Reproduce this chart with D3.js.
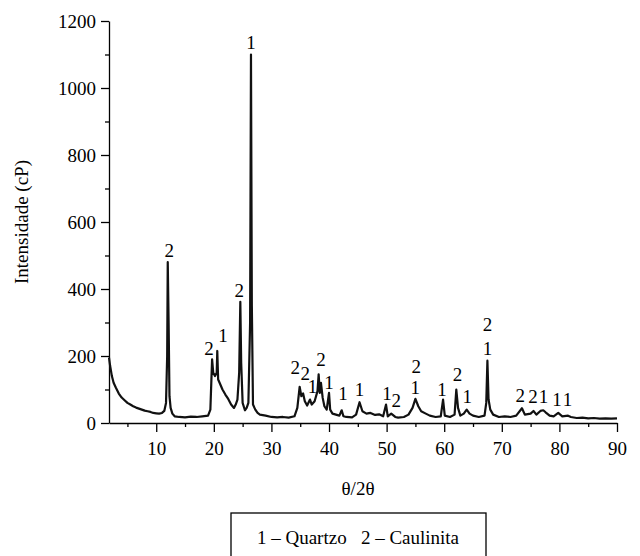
<!DOCTYPE html>
<html>
<head>
<meta charset="utf-8">
<style>
  body { margin: 0; background: #fff; }
  text { font-family: "Liberation Serif"; }
</style>
</head>
<body>
<svg width="640" height="556" font-family="Liberation Serif">
  <text x="-200" y="-50" font-size="19" style="font-family:&quot;Liberation Serif&quot;">0123456789 Quartzo</text>
</svg>
<script src="https://cdn.jsdelivr.net/npm/d3@7"></script>
<script>
// 2theta positions and intensities
var twoTheta = [1.8, 2.0, 2.3, 2.6, 3.0, 3.5, 4.0, 4.5, 5.0, 5.5, 6.0, 6.5, 7.0, 7.5, 8.0, 8.5, 9.0, 9.5, 10.0, 10.5,
  11.0, 11.4, 11.7, 11.9, 12.0, 12.15, 12.3, 12.5, 12.8, 13.2, 14, 15, 16, 17, 18, 19, 19.4, 19.7, 19.9, 20.2,
  20.5, 20.6, 20.75, 21.0, 21.5, 22, 22.5, 23, 23.5, 23.8, 24.1, 24.4, 24.6, 24.75, 25.0, 25.4, 25.7, 26.0, 26.3, 26.45,
  26.6, 26.8, 27.2, 27.6, 28, 29, 30, 31, 32, 33, 34, 34.5, 34.9, 35.2, 35.5, 35.8, 36.2, 36.7, 37.0, 37.5,
  38.0, 38.2, 38.4, 38.6, 38.9, 39.2, 39.6, 40.0, 40.2, 40.6, 41.2, 41.8, 42.2, 42.5, 43, 44, 44.7, 45.3, 45.8, 46.5,
  47.2, 48, 48.7, 49.4, 49.9, 50.2, 50.8, 51.5, 52, 53, 53.8, 54.5, 55.0, 55.5, 56, 56.8, 57.5, 58.5, 59.4, 59.8,
  60.1, 61, 61.8, 62.1, 62.4, 62.8, 63.4, 63.9, 64.4, 65, 66, 67, 67.3, 67.5, 67.7, 68, 68.5, 69.5, 70.5, 71.5,
  72.5, 73.5, 74, 75, 75.5, 76, 76.7, 77.2, 77.6, 78.3, 79, 79.8, 80.5, 81.5, 82, 83, 84, 85, 86, 87,
  88, 89, 90];
var intensity = [195, 170, 140, 120, 105, 88, 76, 68, 60, 55, 50, 46, 43, 40, 37, 35, 33, 30, 29, 28,
  30, 36, 60, 200, 480, 300, 80, 45, 28, 20, 18, 17, 19, 18, 20, 22, 40, 190, 150, 140,
  150, 215, 130, 120, 100, 85, 72, 55, 45, 55, 70, 150, 362, 180, 60, 38, 45, 60, 300, 1100,
  350, 55, 40, 30, 25, 22, 18, 17, 18, 16, 20, 45, 108, 80, 88, 65, 52, 70, 55, 65,
  95, 145, 90, 120, 75, 50, 40, 90, 40, 28, 25, 22, 38, 20, 18, 17, 25, 62, 35, 28,
  30, 24, 26, 20, 55, 20, 28, 18, 16, 18, 25, 45, 72, 50, 35, 28, 22, 18, 20, 70,
  22, 18, 25, 100, 45, 22, 28, 40, 28, 22, 18, 22, 60, 186, 70, 40, 25, 18, 20, 18,
  22, 44, 25, 28, 36, 25, 36, 38, 32, 22, 20, 30, 20, 22, 18, 15, 16, 14, 15, 13,
  14, 13, 14];

// phase labels over the peaks: 1 = quartzo, 2 = caulinita
var labelTheta = [12.26, 19.17, 21.58, 24.41, 26.44, 34.13, 35.87, 37.14, 38.59, 39.98, 42.41, 45.30, 50.05,
  51.67, 55.14, 54.97, 59.62, 62.31, 63.99, 67.52, 67.52, 73.19, 75.40, 77.24, 79.57, 81.41];
var labelInt = [516, 223, 261, 397, 1137, 166, 148, 108, 190, 121, 90, 101, 89,
  69, 168, 107, 101, 145, 79, 293, 223, 84, 79, 79, 71, 71];
var labelText = ["2", "2", "1", "2", "1", "2", "2", "1", "2", "1", "1", "1", "1",
  "2", "2", "1", "1", "2", "1", "2", "1", "2", "2", "1", "1", "1"];

var xTicks = [10, 20, 30, 40, 50, 60, 70, 80, 90];
var xMinor = [5, 15, 25, 35, 45, 55, 65, 75, 85];
var yTicks = [0, 200, 400, 600, 800, 1000, 1200];
var yMinor = [100, 300, 500, 700, 900, 1100];

var svg = d3.select('svg');

var x = d3.scaleLinear().domain([1.8, 90]).range([109, 617]);
var y = d3.scaleLinear().domain([0, 1200]).range([423, 21]);

function serif(sel) {
    return sel.style('font-family', '"Liberation Serif"')
        .attr('font-size', 19)
        .attr('fill', '#000');
}

// minor ticks first, then the major axes on top
svg.append('g')
    .attr('transform', 'translate(0,423)')
    .call(d3.axisBottom(x).tickValues(xMinor).tickSize(4).tickFormat(''))
    .call(g => g.select('.domain').remove());
svg.append('g')
    .attr('transform', 'translate(109,0)')
    .call(d3.axisLeft(y).tickValues(yMinor).tickSize(4).tickFormat(''))
    .call(g => g.select('.domain').remove());

var gx = svg.append('g')
    .attr('transform', 'translate(0,423)')
    .call(d3.axisBottom(x).tickValues(xTicks).tickSize(9).tickSizeOuter(0).tickPadding(10).tickFormat(d3.format('d')));
var gy = svg.append('g')
    .attr('transform', 'translate(109,0)')
    .call(d3.axisLeft(y).tickValues(yTicks).tickSize(8).tickSizeOuter(0).tickPadding(5).tickFormat(d3.format('d')));

// drop the axis' own sans-serif setting
svg.selectAll('g').attr('font-family', null);
gx.selectAll('text').call(serif);
gy.selectAll('text').call(serif);

svg.selectAll('.tick line, .domain').attr('stroke', '#000').attr('stroke-width', 1.3);

// the diffractogram
var pts = twoTheta.map((t, i) => [t, intensity[i]]);
var line = d3.line().x(d => x(d[0])).y(d => y(d[1]));
svg.append('path')
    .datum(pts)
    .attr('d', line)
    .attr('fill', 'none')
    .attr('stroke', '#111')
    .attr('stroke-width', 2.2)
    .attr('stroke-linejoin', 'round');

// peak labels
svg.selectAll('text.peak')
    .data(labelText)
    .enter()
    .append('text')
    .attr('class', 'peak')
    .attr('x', (d, i) => x(labelTheta[i]))
    .attr('y', (d, i) => y(labelInt[i]))
    .attr('dy', '0.35em')
    .attr('text-anchor', 'middle')
    .call(serif)
    .text(d => d);

// axis titles
svg.append('text')
    .attr('x', 358)
    .attr('y', 495)
    .attr('text-anchor', 'middle')
    .call(serif)
    .text('θ/2θ');

svg.append('text')
    .attr('transform', 'translate(28,222) rotate(-90)')
    .attr('text-anchor', 'middle')
    .call(serif)
    .text('Intensidade (cP)');

// legend box
svg.append('rect')
    .attr('x', 231)
    .attr('y', 513)
    .attr('width', 255)
    .attr('height', 46)
    .attr('fill', 'none')
    .attr('stroke', '#000')
    .attr('stroke-width', 1.3);

svg.append('text')
    .attr('x', 358)
    .attr('y', 544)
    .attr('text-anchor', 'middle')
    .style('white-space', 'pre')
    .call(serif)
    .text('1 – Quartzo   2 – Caulinita');
</script>
</body>
</html>
